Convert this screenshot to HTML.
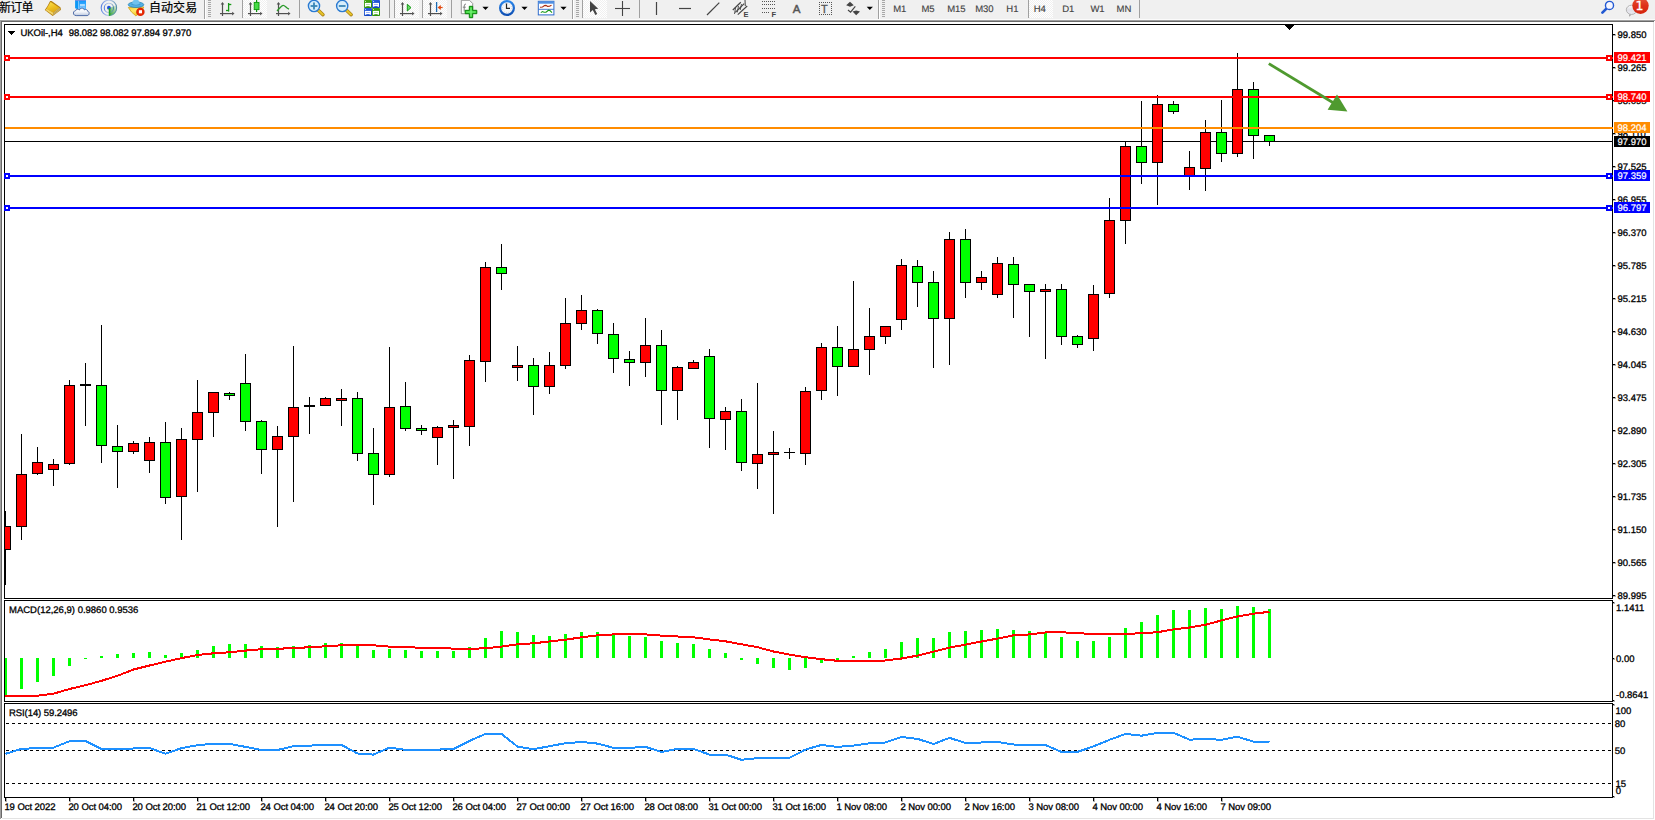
<!DOCTYPE html>
<html lang="zh-CN">
<head>
<meta charset="utf-8">
<title>UKOil-,H4</title>
<style>
html,body{margin:0;padding:0;background:#fff}
body{position:relative;width:1655px;height:820px;overflow:hidden;font-family:"Liberation Sans","Noto Sans CJK SC",sans-serif}
#toolbar{position:absolute;left:0;top:0;width:1655px;height:20px;background:#f0f0f0;border-bottom:0;overflow:hidden}
#toolbar:after{content:"";position:absolute;left:0;top:19px;width:1655px;height:1px;background:#fbfbfb}
#toolbar svg{position:absolute;left:0;top:0}
#chart{position:absolute;left:0;top:0;width:1655px;height:820px}
svg{display:block}
svg text{white-space:pre}
</style>
</head>
<body>
<div id="chart">
<svg width="1655" height="820" viewBox="0 0 1655 820" shape-rendering="crispEdges">
<defs><clipPath id="clipmain"><rect x="5" y="25" width="1607" height="573"/></clipPath><clipPath id="clipmacd"><rect x="5" y="601" width="1607" height="100"/></clipPath><clipPath id="cliprsi"><rect x="5" y="704" width="1607" height="93"/></clipPath></defs>
<rect x="0" y="20" width="1655" height="1" fill="#a0a0a0"/>
<rect x="0" y="21" width="1654" height="1" fill="#696969"/>
<rect x="0" y="20" width="1" height="799" fill="#a0a0a0"/>
<rect x="1" y="21" width="1" height="797" fill="#696969"/>
<rect x="1653" y="22" width="1" height="797" fill="#e3e3e3"/>
<rect x="2" y="818" width="1652" height="1" fill="#e3e3e3"/>
<g id="bid-line"><rect x="5" y="141" width="1607" height="1" fill="#000"/></g>
<g id="candles" clip-path="url(#clipmain)">
<rect x="5" y="511" width="1" height="74" fill="#000"/>
<rect x="0" y="526" width="11" height="24" fill="#000"/>
<rect x="1" y="527" width="9" height="22" fill="#ff0000"/>
<rect x="21" y="434" width="1" height="106" fill="#000"/>
<rect x="16" y="474" width="11" height="53" fill="#000"/>
<rect x="17" y="475" width="9" height="51" fill="#ff0000"/>
<rect x="37" y="447" width="1" height="28" fill="#000"/>
<rect x="32" y="462" width="11" height="12" fill="#000"/>
<rect x="33" y="463" width="9" height="10" fill="#ff0000"/>
<rect x="53" y="459" width="1" height="27" fill="#000"/>
<rect x="48" y="464" width="11" height="6" fill="#000"/>
<rect x="49" y="465" width="9" height="4" fill="#ff0000"/>
<rect x="69" y="380" width="1" height="85" fill="#000"/>
<rect x="64" y="385" width="11" height="79" fill="#000"/>
<rect x="65" y="386" width="9" height="77" fill="#ff0000"/>
<rect x="85" y="363" width="1" height="63" fill="#000"/>
<rect x="80" y="384" width="11" height="2" fill="#000"/>
<rect x="101" y="325" width="1" height="138" fill="#000"/>
<rect x="96" y="385" width="11" height="61" fill="#000"/>
<rect x="97" y="386" width="9" height="59" fill="#00ff00"/>
<rect x="117" y="425" width="1" height="63" fill="#000"/>
<rect x="112" y="446" width="11" height="6" fill="#000"/>
<rect x="113" y="447" width="9" height="4" fill="#00ff00"/>
<rect x="133" y="441" width="1" height="13" fill="#000"/>
<rect x="128" y="443" width="11" height="9" fill="#000"/>
<rect x="129" y="444" width="9" height="7" fill="#ff0000"/>
<rect x="149" y="437" width="1" height="36" fill="#000"/>
<rect x="144" y="442" width="11" height="19" fill="#000"/>
<rect x="145" y="443" width="9" height="17" fill="#ff0000"/>
<rect x="165" y="422" width="1" height="82" fill="#000"/>
<rect x="160" y="442" width="11" height="56" fill="#000"/>
<rect x="161" y="443" width="9" height="54" fill="#00ff00"/>
<rect x="181" y="428" width="1" height="112" fill="#000"/>
<rect x="176" y="439" width="11" height="58" fill="#000"/>
<rect x="177" y="440" width="9" height="56" fill="#ff0000"/>
<rect x="197" y="380" width="1" height="112" fill="#000"/>
<rect x="192" y="412" width="11" height="28" fill="#000"/>
<rect x="193" y="413" width="9" height="26" fill="#ff0000"/>
<rect x="213" y="392" width="1" height="45" fill="#000"/>
<rect x="208" y="392" width="11" height="21" fill="#000"/>
<rect x="209" y="393" width="9" height="19" fill="#ff0000"/>
<rect x="229" y="392" width="1" height="8" fill="#000"/>
<rect x="224" y="393" width="11" height="3" fill="#000"/>
<rect x="225" y="394" width="9" height="1" fill="#00ff00"/>
<rect x="245" y="354" width="1" height="77" fill="#000"/>
<rect x="240" y="383" width="11" height="39" fill="#000"/>
<rect x="241" y="384" width="9" height="37" fill="#00ff00"/>
<rect x="261" y="420" width="1" height="54" fill="#000"/>
<rect x="256" y="421" width="11" height="29" fill="#000"/>
<rect x="257" y="422" width="9" height="27" fill="#00ff00"/>
<rect x="277" y="426" width="1" height="101" fill="#000"/>
<rect x="272" y="436" width="11" height="14" fill="#000"/>
<rect x="273" y="437" width="9" height="12" fill="#ff0000"/>
<rect x="293" y="346" width="1" height="156" fill="#000"/>
<rect x="288" y="407" width="11" height="30" fill="#000"/>
<rect x="289" y="408" width="9" height="28" fill="#ff0000"/>
<rect x="309" y="397" width="1" height="37" fill="#000"/>
<rect x="304" y="405" width="11" height="2" fill="#000"/>
<rect x="325" y="397" width="1" height="9" fill="#000"/>
<rect x="320" y="398" width="11" height="8" fill="#000"/>
<rect x="321" y="399" width="9" height="6" fill="#ff0000"/>
<rect x="341" y="389" width="1" height="37" fill="#000"/>
<rect x="336" y="398" width="11" height="3" fill="#000"/>
<rect x="337" y="399" width="9" height="1" fill="#ff0000"/>
<rect x="357" y="392" width="1" height="69" fill="#000"/>
<rect x="352" y="398" width="11" height="56" fill="#000"/>
<rect x="353" y="399" width="9" height="54" fill="#00ff00"/>
<rect x="373" y="428" width="1" height="77" fill="#000"/>
<rect x="368" y="453" width="11" height="22" fill="#000"/>
<rect x="369" y="454" width="9" height="20" fill="#00ff00"/>
<rect x="389" y="347" width="1" height="130" fill="#000"/>
<rect x="384" y="407" width="11" height="68" fill="#000"/>
<rect x="385" y="408" width="9" height="66" fill="#ff0000"/>
<rect x="405" y="382" width="1" height="49" fill="#000"/>
<rect x="400" y="406" width="11" height="23" fill="#000"/>
<rect x="401" y="407" width="9" height="21" fill="#00ff00"/>
<rect x="421" y="425" width="1" height="10" fill="#000"/>
<rect x="416" y="428" width="11" height="3" fill="#000"/>
<rect x="417" y="429" width="9" height="1" fill="#00ff00"/>
<rect x="437" y="426" width="1" height="39" fill="#000"/>
<rect x="432" y="427" width="11" height="11" fill="#000"/>
<rect x="433" y="428" width="9" height="9" fill="#ff0000"/>
<rect x="453" y="420" width="1" height="59" fill="#000"/>
<rect x="448" y="425" width="11" height="3" fill="#000"/>
<rect x="449" y="426" width="9" height="1" fill="#ff0000"/>
<rect x="469" y="355" width="1" height="91" fill="#000"/>
<rect x="464" y="360" width="11" height="67" fill="#000"/>
<rect x="465" y="361" width="9" height="65" fill="#ff0000"/>
<rect x="485" y="262" width="1" height="120" fill="#000"/>
<rect x="480" y="267" width="11" height="95" fill="#000"/>
<rect x="481" y="268" width="9" height="93" fill="#ff0000"/>
<rect x="501" y="244" width="1" height="46" fill="#000"/>
<rect x="496" y="267" width="11" height="7" fill="#000"/>
<rect x="497" y="268" width="9" height="5" fill="#00ff00"/>
<rect x="517" y="346" width="1" height="35" fill="#000"/>
<rect x="512" y="365" width="11" height="3" fill="#000"/>
<rect x="513" y="366" width="9" height="1" fill="#ff0000"/>
<rect x="533" y="358" width="1" height="57" fill="#000"/>
<rect x="528" y="365" width="11" height="22" fill="#000"/>
<rect x="529" y="366" width="9" height="20" fill="#00ff00"/>
<rect x="549" y="352" width="1" height="42" fill="#000"/>
<rect x="544" y="365" width="11" height="22" fill="#000"/>
<rect x="545" y="366" width="9" height="20" fill="#ff0000"/>
<rect x="565" y="298" width="1" height="71" fill="#000"/>
<rect x="560" y="323" width="11" height="43" fill="#000"/>
<rect x="561" y="324" width="9" height="41" fill="#ff0000"/>
<rect x="581" y="295" width="1" height="35" fill="#000"/>
<rect x="576" y="310" width="11" height="14" fill="#000"/>
<rect x="577" y="311" width="9" height="12" fill="#ff0000"/>
<rect x="597" y="309" width="1" height="35" fill="#000"/>
<rect x="592" y="310" width="11" height="24" fill="#000"/>
<rect x="593" y="311" width="9" height="22" fill="#00ff00"/>
<rect x="613" y="323" width="1" height="50" fill="#000"/>
<rect x="608" y="334" width="11" height="25" fill="#000"/>
<rect x="609" y="335" width="9" height="23" fill="#00ff00"/>
<rect x="629" y="351" width="1" height="35" fill="#000"/>
<rect x="624" y="359" width="11" height="4" fill="#000"/>
<rect x="625" y="360" width="9" height="2" fill="#00ff00"/>
<rect x="645" y="318" width="1" height="59" fill="#000"/>
<rect x="640" y="345" width="11" height="18" fill="#000"/>
<rect x="641" y="346" width="9" height="16" fill="#ff0000"/>
<rect x="661" y="330" width="1" height="95" fill="#000"/>
<rect x="656" y="345" width="11" height="46" fill="#000"/>
<rect x="657" y="346" width="9" height="44" fill="#00ff00"/>
<rect x="677" y="366" width="1" height="54" fill="#000"/>
<rect x="672" y="367" width="11" height="24" fill="#000"/>
<rect x="673" y="368" width="9" height="22" fill="#ff0000"/>
<rect x="693" y="360" width="1" height="9" fill="#000"/>
<rect x="688" y="362" width="11" height="7" fill="#000"/>
<rect x="689" y="363" width="9" height="5" fill="#ff0000"/>
<rect x="709" y="349" width="1" height="99" fill="#000"/>
<rect x="704" y="356" width="11" height="63" fill="#000"/>
<rect x="705" y="357" width="9" height="61" fill="#00ff00"/>
<rect x="725" y="407" width="1" height="43" fill="#000"/>
<rect x="720" y="411" width="11" height="9" fill="#000"/>
<rect x="721" y="412" width="9" height="7" fill="#ff0000"/>
<rect x="741" y="399" width="1" height="72" fill="#000"/>
<rect x="736" y="411" width="11" height="52" fill="#000"/>
<rect x="737" y="412" width="9" height="50" fill="#00ff00"/>
<rect x="757" y="383" width="1" height="106" fill="#000"/>
<rect x="752" y="454" width="11" height="10" fill="#000"/>
<rect x="753" y="455" width="9" height="8" fill="#ff0000"/>
<rect x="773" y="431" width="1" height="83" fill="#000"/>
<rect x="768" y="452" width="11" height="3" fill="#000"/>
<rect x="769" y="453" width="9" height="1" fill="#ff0000"/>
<rect x="789" y="448" width="1" height="11" fill="#000"/>
<rect x="784" y="452" width="11" height="1" fill="#000"/>
<rect x="805" y="387" width="1" height="78" fill="#000"/>
<rect x="800" y="391" width="11" height="63" fill="#000"/>
<rect x="801" y="392" width="9" height="61" fill="#ff0000"/>
<rect x="821" y="343" width="1" height="57" fill="#000"/>
<rect x="816" y="347" width="11" height="44" fill="#000"/>
<rect x="817" y="348" width="9" height="42" fill="#ff0000"/>
<rect x="837" y="326" width="1" height="70" fill="#000"/>
<rect x="832" y="347" width="11" height="20" fill="#000"/>
<rect x="833" y="348" width="9" height="18" fill="#00ff00"/>
<rect x="853" y="281" width="1" height="86" fill="#000"/>
<rect x="848" y="349" width="11" height="18" fill="#000"/>
<rect x="849" y="350" width="9" height="16" fill="#ff0000"/>
<rect x="869" y="308" width="1" height="67" fill="#000"/>
<rect x="864" y="336" width="11" height="14" fill="#000"/>
<rect x="865" y="337" width="9" height="12" fill="#ff0000"/>
<rect x="885" y="326" width="1" height="18" fill="#000"/>
<rect x="880" y="326" width="11" height="11" fill="#000"/>
<rect x="881" y="327" width="9" height="9" fill="#ff0000"/>
<rect x="901" y="259" width="1" height="71" fill="#000"/>
<rect x="896" y="265" width="11" height="55" fill="#000"/>
<rect x="897" y="266" width="9" height="53" fill="#ff0000"/>
<rect x="917" y="260" width="1" height="47" fill="#000"/>
<rect x="912" y="266" width="11" height="17" fill="#000"/>
<rect x="913" y="267" width="9" height="15" fill="#00ff00"/>
<rect x="933" y="271" width="1" height="97" fill="#000"/>
<rect x="928" y="282" width="11" height="37" fill="#000"/>
<rect x="929" y="283" width="9" height="35" fill="#00ff00"/>
<rect x="949" y="232" width="1" height="133" fill="#000"/>
<rect x="944" y="239" width="11" height="80" fill="#000"/>
<rect x="945" y="240" width="9" height="78" fill="#ff0000"/>
<rect x="965" y="229" width="1" height="69" fill="#000"/>
<rect x="960" y="239" width="11" height="44" fill="#000"/>
<rect x="961" y="240" width="9" height="42" fill="#00ff00"/>
<rect x="981" y="271" width="1" height="19" fill="#000"/>
<rect x="976" y="277" width="11" height="6" fill="#000"/>
<rect x="977" y="278" width="9" height="4" fill="#ff0000"/>
<rect x="997" y="257" width="1" height="41" fill="#000"/>
<rect x="992" y="263" width="11" height="32" fill="#000"/>
<rect x="993" y="264" width="9" height="30" fill="#ff0000"/>
<rect x="1013" y="257" width="1" height="61" fill="#000"/>
<rect x="1008" y="264" width="11" height="21" fill="#000"/>
<rect x="1009" y="265" width="9" height="19" fill="#00ff00"/>
<rect x="1029" y="284" width="1" height="53" fill="#000"/>
<rect x="1024" y="284" width="11" height="8" fill="#000"/>
<rect x="1025" y="285" width="9" height="6" fill="#00ff00"/>
<rect x="1045" y="284" width="1" height="75" fill="#000"/>
<rect x="1040" y="289" width="11" height="3" fill="#000"/>
<rect x="1041" y="290" width="9" height="1" fill="#ff0000"/>
<rect x="1061" y="284" width="1" height="61" fill="#000"/>
<rect x="1056" y="289" width="11" height="48" fill="#000"/>
<rect x="1057" y="290" width="9" height="46" fill="#00ff00"/>
<rect x="1077" y="335" width="1" height="13" fill="#000"/>
<rect x="1072" y="336" width="11" height="9" fill="#000"/>
<rect x="1073" y="337" width="9" height="7" fill="#00ff00"/>
<rect x="1093" y="285" width="1" height="66" fill="#000"/>
<rect x="1088" y="294" width="11" height="45" fill="#000"/>
<rect x="1089" y="295" width="9" height="43" fill="#ff0000"/>
<rect x="1109" y="198" width="1" height="100" fill="#000"/>
<rect x="1104" y="220" width="11" height="74" fill="#000"/>
<rect x="1105" y="221" width="9" height="72" fill="#ff0000"/>
<rect x="1125" y="142" width="1" height="102" fill="#000"/>
<rect x="1120" y="146" width="11" height="75" fill="#000"/>
<rect x="1121" y="147" width="9" height="73" fill="#ff0000"/>
<rect x="1141" y="101" width="1" height="83" fill="#000"/>
<rect x="1136" y="146" width="11" height="17" fill="#000"/>
<rect x="1137" y="147" width="9" height="15" fill="#00ff00"/>
<rect x="1157" y="95" width="1" height="110" fill="#000"/>
<rect x="1152" y="104" width="11" height="59" fill="#000"/>
<rect x="1153" y="105" width="9" height="57" fill="#ff0000"/>
<rect x="1173" y="101" width="1" height="13" fill="#000"/>
<rect x="1168" y="104" width="11" height="8" fill="#000"/>
<rect x="1169" y="105" width="9" height="6" fill="#00ff00"/>
<rect x="1189" y="151" width="1" height="39" fill="#000"/>
<rect x="1184" y="167" width="11" height="10" fill="#000"/>
<rect x="1185" y="168" width="9" height="8" fill="#ff0000"/>
<rect x="1205" y="120" width="1" height="71" fill="#000"/>
<rect x="1200" y="132" width="11" height="37" fill="#000"/>
<rect x="1201" y="133" width="9" height="35" fill="#ff0000"/>
<rect x="1221" y="100" width="1" height="62" fill="#000"/>
<rect x="1216" y="132" width="11" height="22" fill="#000"/>
<rect x="1217" y="133" width="9" height="20" fill="#00ff00"/>
<rect x="1237" y="53" width="1" height="104" fill="#000"/>
<rect x="1232" y="89" width="11" height="65" fill="#000"/>
<rect x="1233" y="90" width="9" height="63" fill="#ff0000"/>
<rect x="1253" y="82" width="1" height="77" fill="#000"/>
<rect x="1248" y="89" width="11" height="47" fill="#000"/>
<rect x="1249" y="90" width="9" height="45" fill="#00ff00"/>
<rect x="1269" y="135" width="1" height="11" fill="#000"/>
<rect x="1264" y="135" width="11" height="7" fill="#000"/>
<rect x="1265" y="136" width="9" height="5" fill="#00ff00"/>
</g>
<rect x="4" y="24" width="1609" height="1" fill="#000"/>
<rect x="4" y="598" width="1609" height="1" fill="#000"/>
<rect x="4" y="24" width="1" height="575" fill="#000"/>
<rect x="1612" y="24" width="1" height="575" fill="#000"/>
<rect x="4" y="600" width="1609" height="1" fill="#000"/>
<rect x="4" y="701" width="1609" height="1" fill="#000"/>
<rect x="4" y="600" width="1" height="102" fill="#000"/>
<rect x="1612" y="600" width="1" height="102" fill="#000"/>
<rect x="4" y="703" width="1609" height="1" fill="#000"/>
<rect x="4" y="797" width="1609" height="1" fill="#000"/>
<rect x="4" y="703" width="1" height="95" fill="#000"/>
<rect x="1612" y="703" width="1" height="95" fill="#000"/>
<g id="line-99421">
<rect x="5" y="57" width="1608" height="2" fill="#ff0000"/>
<rect x="4" y="55" width="6" height="6" fill="#ff0000"/>
<rect x="6" y="57" width="2" height="2" fill="#fff"/>
<rect x="1606" y="55" width="6" height="6" fill="#ff0000"/>
<rect x="1608" y="57" width="2" height="2" fill="#fff"/>
</g>
<g id="line-98740">
<rect x="5" y="96" width="1608" height="2" fill="#ff0000"/>
<rect x="4" y="94" width="6" height="6" fill="#ff0000"/>
<rect x="6" y="96" width="2" height="2" fill="#fff"/>
<rect x="1606" y="94" width="6" height="6" fill="#ff0000"/>
<rect x="1608" y="96" width="2" height="2" fill="#fff"/>
</g>
<g id="line-98204">
<rect x="5" y="127" width="1608" height="2" fill="#ff8c00"/>
</g>
<g id="line-97359">
<rect x="5" y="175" width="1608" height="2" fill="#0000ff"/>
<rect x="4" y="173" width="6" height="6" fill="#0000ff"/>
<rect x="6" y="175" width="2" height="2" fill="#fff"/>
<rect x="1606" y="173" width="6" height="6" fill="#0000ff"/>
<rect x="1608" y="175" width="2" height="2" fill="#fff"/>
</g>
<g id="line-96797">
<rect x="5" y="207" width="1608" height="2" fill="#0000ff"/>
<rect x="4" y="205" width="6" height="6" fill="#0000ff"/>
<rect x="6" y="207" width="2" height="2" fill="#fff"/>
<rect x="1606" y="205" width="6" height="6" fill="#0000ff"/>
<rect x="1608" y="207" width="2" height="2" fill="#fff"/>
</g>
<g id="arrow" fill="#4f9a2f" stroke="none" shape-rendering="geometricPrecision">
<line x1="1268.8" y1="63.6" x2="1334" y2="103.2" stroke="#4f9a2f" stroke-width="2.8"/>
<polygon points="1347.4,111.4 1337,94.6 1327.6,109.8"/>
</g>
<polygon points="1284.5,25 1294.5,25 1289.5,30" fill="#000" shape-rendering="crispEdges"/>
<g id="macd" clip-path="url(#clipmacd)">
<rect x="4" y="658" width="3" height="38" fill="#00ff00"/>
<rect x="20" y="658" width="3" height="31" fill="#00ff00"/>
<rect x="36" y="658" width="3" height="24" fill="#00ff00"/>
<rect x="52" y="658" width="3" height="18" fill="#00ff00"/>
<rect x="68" y="658" width="3" height="8" fill="#00ff00"/>
<rect x="84" y="658" width="3" height="1" fill="#00ff00"/>
<rect x="100" y="656" width="3" height="2" fill="#00ff00"/>
<rect x="116" y="654" width="3" height="4" fill="#00ff00"/>
<rect x="132" y="653" width="3" height="5" fill="#00ff00"/>
<rect x="148" y="652" width="3" height="6" fill="#00ff00"/>
<rect x="164" y="655" width="3" height="3" fill="#00ff00"/>
<rect x="180" y="653" width="3" height="5" fill="#00ff00"/>
<rect x="196" y="650" width="3" height="8" fill="#00ff00"/>
<rect x="212" y="646" width="3" height="12" fill="#00ff00"/>
<rect x="228" y="644" width="3" height="14" fill="#00ff00"/>
<rect x="244" y="644" width="3" height="14" fill="#00ff00"/>
<rect x="260" y="646" width="3" height="12" fill="#00ff00"/>
<rect x="276" y="647" width="3" height="11" fill="#00ff00"/>
<rect x="292" y="646" width="3" height="12" fill="#00ff00"/>
<rect x="308" y="645" width="3" height="13" fill="#00ff00"/>
<rect x="324" y="643" width="3" height="15" fill="#00ff00"/>
<rect x="340" y="643" width="3" height="15" fill="#00ff00"/>
<rect x="356" y="645" width="3" height="13" fill="#00ff00"/>
<rect x="372" y="650" width="3" height="8" fill="#00ff00"/>
<rect x="388" y="649" width="3" height="9" fill="#00ff00"/>
<rect x="404" y="650" width="3" height="8" fill="#00ff00"/>
<rect x="420" y="651" width="3" height="7" fill="#00ff00"/>
<rect x="436" y="651" width="3" height="7" fill="#00ff00"/>
<rect x="452" y="651" width="3" height="7" fill="#00ff00"/>
<rect x="468" y="647" width="3" height="11" fill="#00ff00"/>
<rect x="484" y="638" width="3" height="20" fill="#00ff00"/>
<rect x="500" y="631" width="3" height="27" fill="#00ff00"/>
<rect x="516" y="632" width="3" height="26" fill="#00ff00"/>
<rect x="532" y="635" width="3" height="23" fill="#00ff00"/>
<rect x="548" y="636" width="3" height="22" fill="#00ff00"/>
<rect x="564" y="634" width="3" height="24" fill="#00ff00"/>
<rect x="580" y="632" width="3" height="26" fill="#00ff00"/>
<rect x="596" y="632" width="3" height="26" fill="#00ff00"/>
<rect x="612" y="635" width="3" height="23" fill="#00ff00"/>
<rect x="628" y="636" width="3" height="22" fill="#00ff00"/>
<rect x="644" y="637" width="3" height="21" fill="#00ff00"/>
<rect x="660" y="641" width="3" height="17" fill="#00ff00"/>
<rect x="676" y="643" width="3" height="15" fill="#00ff00"/>
<rect x="692" y="644" width="3" height="14" fill="#00ff00"/>
<rect x="708" y="649" width="3" height="9" fill="#00ff00"/>
<rect x="724" y="653" width="3" height="5" fill="#00ff00"/>
<rect x="740" y="658" width="3" height="2" fill="#00ff00"/>
<rect x="756" y="658" width="3" height="6" fill="#00ff00"/>
<rect x="772" y="658" width="3" height="10" fill="#00ff00"/>
<rect x="788" y="658" width="3" height="12" fill="#00ff00"/>
<rect x="804" y="658" width="3" height="10" fill="#00ff00"/>
<rect x="820" y="658" width="3" height="5" fill="#00ff00"/>
<rect x="836" y="658" width="3" height="2" fill="#00ff00"/>
<rect x="852" y="656" width="3" height="2" fill="#00ff00"/>
<rect x="868" y="652" width="3" height="6" fill="#00ff00"/>
<rect x="884" y="649" width="3" height="9" fill="#00ff00"/>
<rect x="900" y="642" width="3" height="16" fill="#00ff00"/>
<rect x="916" y="638" width="3" height="20" fill="#00ff00"/>
<rect x="932" y="638" width="3" height="20" fill="#00ff00"/>
<rect x="948" y="632" width="3" height="26" fill="#00ff00"/>
<rect x="964" y="631" width="3" height="27" fill="#00ff00"/>
<rect x="980" y="630" width="3" height="28" fill="#00ff00"/>
<rect x="996" y="629" width="3" height="29" fill="#00ff00"/>
<rect x="1012" y="630" width="3" height="28" fill="#00ff00"/>
<rect x="1028" y="631" width="3" height="27" fill="#00ff00"/>
<rect x="1044" y="633" width="3" height="25" fill="#00ff00"/>
<rect x="1060" y="637" width="3" height="21" fill="#00ff00"/>
<rect x="1076" y="641" width="3" height="17" fill="#00ff00"/>
<rect x="1092" y="641" width="3" height="17" fill="#00ff00"/>
<rect x="1108" y="637" width="3" height="21" fill="#00ff00"/>
<rect x="1124" y="628" width="3" height="30" fill="#00ff00"/>
<rect x="1140" y="622" width="3" height="36" fill="#00ff00"/>
<rect x="1156" y="615" width="3" height="43" fill="#00ff00"/>
<rect x="1172" y="610" width="3" height="48" fill="#00ff00"/>
<rect x="1188" y="610" width="3" height="48" fill="#00ff00"/>
<rect x="1204" y="608" width="3" height="50" fill="#00ff00"/>
<rect x="1220" y="609" width="3" height="49" fill="#00ff00"/>
<rect x="1236" y="606" width="3" height="52" fill="#00ff00"/>
<rect x="1252" y="607" width="3" height="51" fill="#00ff00"/>
<rect x="1268" y="609" width="3" height="49" fill="#00ff00"/>
<polyline points="5.5,696.0 21.5,695.8 37.5,695.7 53.5,693.7 69.5,689.0 85.5,685.2 101.5,680.8 117.5,675.8 133.5,669.5 149.5,665.5 165.5,661.7 181.5,658.1 197.5,655.0 213.5,653.3 229.5,652.3 245.5,650.6 261.5,649.2 277.5,648.7 293.5,648.2 309.5,647.2 325.5,646.3 341.5,645.3 357.5,644.7 373.5,645.3 389.5,646.6 405.5,647.0 421.5,647.9 437.5,647.9 453.5,648.6 469.5,648.8 485.5,648.3 501.5,646.6 517.5,644.3 533.5,643.3 549.5,641.5 565.5,639.7 581.5,637.3 597.5,635.3 613.5,634.4 629.5,633.8 645.5,634.4 661.5,635.6 677.5,636.5 693.5,637.3 709.5,639.4 725.5,641.3 741.5,644.3 757.5,647.2 773.5,651.5 789.5,654.6 805.5,657.2 821.5,659.2 837.5,660.8 853.5,661.0 869.5,661.0 885.5,660.5 901.5,658.5 917.5,655.6 933.5,651.6 949.5,647.6 965.5,644.6 981.5,641.5 997.5,638.6 1013.5,635.3 1029.5,634.4 1045.5,632.5 1061.5,632.2 1077.5,633.3 1093.5,633.8 1109.5,633.8 1125.5,633.8 1141.5,633.3 1157.5,632.2 1173.5,629.4 1189.5,627.5 1205.5,624.8 1221.5,620.4 1237.5,616.5 1253.5,613.7 1269.5,611.8" fill="none" stroke="#ff0000" stroke-width="2" shape-rendering="crispEdges"/>
</g>
<g id="rsi" clip-path="url(#cliprsi)">
<line x1="6" y1="723.5" x2="1612" y2="723.5" stroke="#000" stroke-width="1" stroke-dasharray="3 3"/>
<line x1="6" y1="750.5" x2="1612" y2="750.5" stroke="#000" stroke-width="1" stroke-dasharray="3 3"/>
<line x1="6" y1="783.5" x2="1612" y2="783.5" stroke="#000" stroke-width="1" stroke-dasharray="3 3"/>
<polyline points="5.5,753.8 21.5,748.9 37.5,748.1 53.5,747.6 69.5,741.2 85.5,740.9 101.5,748.9 117.5,749.2 133.5,748.5 149.5,747.9 165.5,753.8 181.5,748.1 197.5,745.2 213.5,743.7 229.5,743.8 245.5,746.9 261.5,750.0 277.5,750.0 293.5,746.2 309.5,745.6 325.5,744.9 341.5,744.9 357.5,753.5 373.5,754.6 389.5,747.6 405.5,749.8 421.5,750.0 437.5,749.6 453.5,748.9 469.5,740.9 485.5,733.9 501.5,733.9 517.5,746.6 533.5,749.2 549.5,746.2 565.5,743.2 581.5,742.0 597.5,743.6 613.5,747.8 629.5,747.8 645.5,746.9 661.5,752.0 677.5,748.9 693.5,748.9 709.5,754.6 725.5,754.6 741.5,759.8 757.5,758.2 773.5,757.8 789.5,757.8 805.5,749.6 821.5,744.9 837.5,746.9 853.5,745.6 869.5,743.3 885.5,742.5 901.5,736.9 917.5,738.9 933.5,744.0 949.5,737.9 965.5,742.9 981.5,742.5 997.5,742.0 1013.5,744.5 1029.5,744.9 1045.5,745.1 1061.5,751.9 1077.5,751.9 1093.5,746.4 1109.5,739.8 1125.5,733.9 1141.5,735.7 1157.5,732.8 1173.5,732.8 1189.5,739.7 1205.5,738.9 1221.5,739.8 1237.5,736.7 1253.5,741.7 1269.5,742.0" fill="none" stroke="#1e90ff" stroke-width="2" shape-rendering="crispEdges"/>
</g>
<g id="price-axis" font-family="Liberation Sans, sans-serif" font-size="9.5px" text-rendering="geometricPrecision" stroke="#000" stroke-width="0.3" fill="#000">
<rect x="1613" y="34" width="2" height="1" fill="#000"/>
<text x="1617.5" y="38">99.850</text>
<rect x="1613" y="67" width="2" height="1" fill="#000"/>
<text x="1617.5" y="71">99.265</text>
<rect x="1613" y="100" width="2" height="1" fill="#000"/>
<text x="1617.5" y="104">98.695</text>
<rect x="1613" y="133" width="2" height="1" fill="#000"/>
<text x="1617.5" y="137">98.110</text>
<rect x="1613" y="166" width="2" height="1" fill="#000"/>
<text x="1617.5" y="170">97.525</text>
<rect x="1613" y="199" width="2" height="1" fill="#000"/>
<text x="1617.5" y="203">96.955</text>
<rect x="1613" y="232" width="2" height="1" fill="#000"/>
<text x="1617.5" y="236">96.370</text>
<rect x="1613" y="265" width="2" height="1" fill="#000"/>
<text x="1617.5" y="269">95.785</text>
<rect x="1613" y="298" width="2" height="1" fill="#000"/>
<text x="1617.5" y="302">95.215</text>
<rect x="1613" y="331" width="2" height="1" fill="#000"/>
<text x="1617.5" y="335">94.630</text>
<rect x="1613" y="364" width="2" height="1" fill="#000"/>
<text x="1617.5" y="368">94.045</text>
<rect x="1613" y="397" width="2" height="1" fill="#000"/>
<text x="1617.5" y="401">93.475</text>
<rect x="1613" y="430" width="2" height="1" fill="#000"/>
<text x="1617.5" y="434">92.890</text>
<rect x="1613" y="463" width="2" height="1" fill="#000"/>
<text x="1617.5" y="467">92.305</text>
<rect x="1613" y="496" width="2" height="1" fill="#000"/>
<text x="1617.5" y="500">91.735</text>
<rect x="1613" y="529" width="2" height="1" fill="#000"/>
<text x="1617.5" y="533">91.150</text>
<rect x="1613" y="562" width="2" height="1" fill="#000"/>
<text x="1617.5" y="566">90.565</text>
<rect x="1613" y="595" width="2" height="1" fill="#000"/>
<text x="1617.5" y="599">89.995</text>
</g>
<g id="tag-99421"><rect x="1614" y="52" width="36" height="11" fill="#ff0000"/><text x="1617.5" y="61" fill="#fff" font-family="Liberation Sans, sans-serif" font-size="9.5px" text-rendering="geometricPrecision" stroke="#fff" stroke-width="0.2">99.421</text></g>
<g id="tag-98740"><rect x="1614" y="91" width="36" height="11" fill="#ff0000"/><text x="1617.5" y="100" fill="#fff" font-family="Liberation Sans, sans-serif" font-size="9.5px" text-rendering="geometricPrecision" stroke="#fff" stroke-width="0.2">98.740</text></g>
<g id="tag-98204"><rect x="1614" y="122" width="36" height="11" fill="#ff8c00"/><text x="1617.5" y="131" fill="#fff" font-family="Liberation Sans, sans-serif" font-size="9.5px" text-rendering="geometricPrecision" stroke="#fff" stroke-width="0.2">98.204</text></g>
<g id="tag-bid"><rect x="1614" y="136" width="36" height="11" fill="#000000"/><text x="1617.5" y="145" fill="#fff" font-family="Liberation Sans, sans-serif" font-size="9.5px" text-rendering="geometricPrecision" stroke="#fff" stroke-width="0.2">97.970</text></g>
<g id="tag-97359"><rect x="1614" y="170" width="36" height="11" fill="#0000ff"/><text x="1617.5" y="179" fill="#fff" font-family="Liberation Sans, sans-serif" font-size="9.5px" text-rendering="geometricPrecision" stroke="#fff" stroke-width="0.2">97.359</text></g>
<g id="tag-96797"><rect x="1614" y="202" width="36" height="11" fill="#0000ff"/><text x="1617.5" y="211" fill="#fff" font-family="Liberation Sans, sans-serif" font-size="9.5px" text-rendering="geometricPrecision" stroke="#fff" stroke-width="0.2">96.797</text></g>
<g id="macd-axis" font-family="Liberation Sans, sans-serif" font-size="9.5px" text-rendering="geometricPrecision" stroke="#000" stroke-width="0.3" fill="#000">
<rect x="1613" y="602" width="1" height="1" fill="#000"/>
<text x="1616" y="611">1.1411</text>
<rect x="1613" y="658" width="1" height="1" fill="#000"/>
<text x="1616" y="662">0.00</text>
<rect x="1613" y="700" width="1" height="1" fill="#000"/>
<text x="1616" y="698">-0.8641</text>
</g>
<g id="rsi-axis" font-family="Liberation Sans, sans-serif" font-size="9.5px" text-rendering="geometricPrecision" stroke="#000" stroke-width="0.3" fill="#000">
<rect x="1613" y="704" width="1" height="1" fill="#000"/><rect x="1613" y="796" width="1" height="1" fill="#000"/>
<text x="1615.5" y="714">100</text>
<text x="1614.7" y="727">80</text>
<text x="1614.7" y="754">50</text>
<text x="1615.5" y="787.2">15</text>
<text x="1615.8" y="793.6">0</text>
</g>
<g id="time-axis" font-family="Liberation Sans, sans-serif" font-size="9.5px" text-rendering="geometricPrecision" stroke="#000" stroke-width="0.3" fill="#000">
<rect x="5" y="798" width="1" height="3" fill="#000"/>
<text x="4.4" y="810" letter-spacing="-0.07">19 Oct 2022</text>
<rect x="69" y="798" width="1" height="3" fill="#000"/>
<text x="68.4" y="810" letter-spacing="-0.07">20 Oct 04:00</text>
<rect x="133" y="798" width="1" height="3" fill="#000"/>
<text x="132.4" y="810" letter-spacing="-0.07">20 Oct 20:00</text>
<rect x="197" y="798" width="1" height="3" fill="#000"/>
<text x="196.4" y="810" letter-spacing="-0.07">21 Oct 12:00</text>
<rect x="261" y="798" width="1" height="3" fill="#000"/>
<text x="260.4" y="810" letter-spacing="-0.07">24 Oct 04:00</text>
<rect x="325" y="798" width="1" height="3" fill="#000"/>
<text x="324.4" y="810" letter-spacing="-0.07">24 Oct 20:00</text>
<rect x="389" y="798" width="1" height="3" fill="#000"/>
<text x="388.4" y="810" letter-spacing="-0.07">25 Oct 12:00</text>
<rect x="453" y="798" width="1" height="3" fill="#000"/>
<text x="452.4" y="810" letter-spacing="-0.07">26 Oct 04:00</text>
<rect x="517" y="798" width="1" height="3" fill="#000"/>
<text x="516.4" y="810" letter-spacing="-0.07">27 Oct 00:00</text>
<rect x="581" y="798" width="1" height="3" fill="#000"/>
<text x="580.4" y="810" letter-spacing="-0.07">27 Oct 16:00</text>
<rect x="645" y="798" width="1" height="3" fill="#000"/>
<text x="644.4" y="810" letter-spacing="-0.07">28 Oct 08:00</text>
<rect x="709" y="798" width="1" height="3" fill="#000"/>
<text x="708.4" y="810" letter-spacing="-0.07">31 Oct 00:00</text>
<rect x="773" y="798" width="1" height="3" fill="#000"/>
<text x="772.4" y="810" letter-spacing="-0.07">31 Oct 16:00</text>
<rect x="837" y="798" width="1" height="3" fill="#000"/>
<text x="836.4" y="810" letter-spacing="-0.07">1 Nov 08:00</text>
<rect x="901" y="798" width="1" height="3" fill="#000"/>
<text x="900.4" y="810" letter-spacing="-0.07">2 Nov 00:00</text>
<rect x="965" y="798" width="1" height="3" fill="#000"/>
<text x="964.4" y="810" letter-spacing="-0.07">2 Nov 16:00</text>
<rect x="1029" y="798" width="1" height="3" fill="#000"/>
<text x="1028.4" y="810" letter-spacing="-0.07">3 Nov 08:00</text>
<rect x="1093" y="798" width="1" height="3" fill="#000"/>
<text x="1092.4" y="810" letter-spacing="-0.07">4 Nov 00:00</text>
<rect x="1157" y="798" width="1" height="3" fill="#000"/>
<text x="1156.4" y="810" letter-spacing="-0.07">4 Nov 16:00</text>
<rect x="1221" y="798" width="1" height="3" fill="#000"/>
<text x="1220.4" y="810" letter-spacing="-0.07">7 Nov 09:00</text>
</g>
<g id="captions" font-family="Liberation Sans, sans-serif" font-size="9.5px" text-rendering="geometricPrecision" stroke="#000" stroke-width="0.3" fill="#000">
<polygon points="8,31 15,31 11.5,35" fill="#000"/>
<text x="20.5" y="36" letter-spacing="-0.065">UKOil-,H4&#160;&#160;<tspan dx="1">98.082 98.082 97.894 97.970</tspan></text>
<text x="9" y="613">MACD(12,26,9) 0.9860 0.9536</text>
<text x="9" y="716" letter-spacing="-0.08">RSI(14) 59.2496</text>
</g>
</svg>
</div>
<div id="toolbar">
<svg width="1655" height="20" viewBox="0 0 1655 20">
<defs>
<pattern id="chk" width="2" height="2" patternUnits="userSpaceOnUse"><rect width="2" height="2" fill="#fff"/><rect width="1" height="1" fill="#f0f0f0"/><rect x="1" y="1" width="1" height="1" fill="#f0f0f0"/></pattern>
<linearGradient id="gold" x1="0.2" y1="0" x2="0.7" y2="1"><stop offset="0" stop-color="#fbe04e"/><stop offset="0.55" stop-color="#ecbc1c"/><stop offset="1" stop-color="#d9a41a"/></linearGradient>
<linearGradient id="srv" x1="0" y1="0" x2="0" y2="1"><stop offset="0" stop-color="#189bff"/><stop offset="1" stop-color="#62bcff"/></linearGradient>
<linearGradient id="cld" x1="0" y1="0" x2="0" y2="1"><stop offset="0" stop-color="#ffffff"/><stop offset="0.5" stop-color="#f2f5fa"/><stop offset="1" stop-color="#bcc8de"/></linearGradient>
<linearGradient id="sigw" x1="0" y1="1" x2="0.8" y2="0"><stop offset="0" stop-color="#1f9f1f"/><stop offset="0.45" stop-color="#74c074"/><stop offset="1" stop-color="#d2e4d2"/></linearGradient>
<linearGradient id="sigr" x1="0" y1="0" x2="1" y2="0"><stop offset="0" stop-color="#3f6fe0" stop-opacity="0.85"/><stop offset="0.5" stop-color="#88a6e6" stop-opacity="0.45"/><stop offset="1" stop-color="#3f7f9f" stop-opacity="0.85"/></linearGradient>
<linearGradient id="face" x1="0" y1="0" x2="0.3" y2="1"><stop offset="0" stop-color="#f6cf3a"/><stop offset="0.5" stop-color="#ffe96a"/><stop offset="1" stop-color="#f2c624"/></linearGradient>
<radialGradient id="stop" cx="0.5" cy="0.5" r="0.55"><stop offset="0" stop-color="#f23a10"/><stop offset="0.75" stop-color="#e42400"/><stop offset="1" stop-color="#b81400"/></radialGradient>
<linearGradient id="tg" x1="0" y1="0" x2="0.4" y2="1"><stop offset="0" stop-color="#44a812"/><stop offset="1" stop-color="#2f920c"/></linearGradient>
<linearGradient id="tb" x1="0" y1="0" x2="0.4" y2="1"><stop offset="0" stop-color="#2a62e0"/><stop offset="1" stop-color="#1244c4"/></linearGradient>
<linearGradient id="clk" x1="0" y1="0" x2="0" y2="1"><stop offset="0" stop-color="#2a86ea"/><stop offset="1" stop-color="#0f50b4"/></linearGradient>
<linearGradient id="bub" x1="0" y1="0" x2="0" y2="1"><stop offset="0" stop-color="#fbfbfd"/><stop offset="0.5" stop-color="#e0e0e6"/><stop offset="1" stop-color="#ececf4"/></linearGradient>
<linearGradient id="badge" x1="0" y1="0" x2="0" y2="1"><stop offset="0" stop-color="#e6553a"/><stop offset="0.5" stop-color="#de3018"/><stop offset="1" stop-color="#d4240e"/></linearGradient>
</defs>
<text x="-0.9" y="11.5" font-family="Liberation Sans, Noto Sans CJK SC, sans-serif" font-size="12px" letter-spacing="-0.8" fill="#000" stroke="#000" stroke-width="0.2">新订单</text>
<g id="ico-book"><polygon points="50.1,1.1 51.6,0.9 60.4,7.2 61.1,9.8 52.7,16 44.8,9.9 47.5,6" fill="#b5800f"/><polygon points="50.6,2 59.4,7.7 53.3,12.8 46.6,8.7" fill="url(#gold)"/><polygon points="45.6,10 46.6,8.7 53.3,12.8 52.8,15.1" fill="#f2d568"/><polygon points="53.3,12.8 59.4,7.7 60.5,9.7 53.2,15.2" fill="#cfb66e"/><line x1="53.4" y1="14" x2="60" y2="8.7" stroke="#a88a3a" stroke-width="0.5"/></g>
<g id="ico-cloud"><polygon points="75.1,0 85.9,0 85.9,9.4 78.5,9.4 75.1,8.2" fill="#0d98f6"/><polygon points="78.7,1.2 85.9,1.2 85.9,9.4 78.7,9.4" fill="url(#srv)"/><rect x="75.1" y="0" width="10.8" height="0.8" fill="#7f8fe2"/><rect x="78.3" y="0.8" width="0.5" height="8.6" fill="#d8efff"/><rect x="80" y="4.4" width="4.9" height="1.2" fill="#f4faff"/><rect x="80" y="6.6" width="4.9" height="0.9" fill="#9fd2ff"/><path d="M76.2 15.6 C72.6 15.6 72.6 10.9 75.6 10.7 C76 8.9 78.6 8.9 79.4 10 C80.2 7.6 83.6 7.6 84.4 9.9 C85.6 8.9 87.6 9.6 87.6 11.2 C89.9 11.6 89.6 15.6 87 15.6 Z" fill="url(#cld)" stroke="#3f5f9f" stroke-width="0.9"/></g>
<g id="ico-signal" fill="none"><path d="M108.9 7.9 L109.4 15.9 A8 8 0 0 0 116.6 5.6 Z" fill="url(#sigw)" stroke="none"/><circle cx="108.9" cy="7.9" r="7.7" stroke="url(#sigr)" stroke-width="1.1"/><circle cx="108.9" cy="7.9" r="4.6" stroke="url(#sigr)" stroke-width="1.1"/><circle cx="108.9" cy="7.7" r="1.9" fill="#2050d6" stroke="none"/><line x1="109.5" y1="8" x2="109.5" y2="15.8" stroke="#1fa31f" stroke-width="1.5"/></g>
<g id="ico-auto"><polygon points="128.3,7.4 143.8,7 141,12.5 135.8,15.8 131.5,12" fill="url(#face)" stroke="#d29c12" stroke-width="0.8"/><ellipse cx="136" cy="4.7" rx="7.8" ry="2.8" fill="#56b0e4" stroke="#1d7eb0" stroke-width="0.7"/><ellipse cx="135.9" cy="2.6" rx="3.5" ry="3" fill="#70c2ef"/><path d="M131.3 4.2 Q136 6.4 140.6 4.2" stroke="#2f8fc4" stroke-width="0.6" fill="none"/><circle cx="140.4" cy="11.9" r="4.2" fill="url(#stop)"/><rect x="138.9" y="10.2" width="3.1" height="3.1" fill="#fff"/></g>
<text x="148.9" y="11.5" font-family="Liberation Sans, Noto Sans CJK SC, sans-serif" font-size="12px" letter-spacing="0.1" fill="#000" stroke="#000" stroke-width="0.2">自动交易</text>
<rect x="204" y="0" width="1" height="20" fill="#a0a0a0"/><rect x="205" y="0" width="1" height="20" fill="#fff"/>
<rect x="208" y="0" width="3" height="1" fill="#a8a8a8"/>
<rect x="208" y="2" width="3" height="1" fill="#a8a8a8"/>
<rect x="208" y="4" width="3" height="1" fill="#a8a8a8"/>
<rect x="208" y="6" width="3" height="1" fill="#a8a8a8"/>
<rect x="208" y="8" width="3" height="1" fill="#a8a8a8"/>
<rect x="208" y="10" width="3" height="1" fill="#a8a8a8"/>
<rect x="208" y="12" width="3" height="1" fill="#a8a8a8"/>
<rect x="208" y="14" width="3" height="1" fill="#a8a8a8"/>
<rect x="208" y="16" width="3" height="1" fill="#a8a8a8"/>
<g stroke="#505050" stroke-width="1.2" fill="#505050" shape-rendering="geometricPrecision"><line x1="222.5" y1="3" x2="222.5" y2="16"/><line x1="220.0" y1="13.6" x2="232.5" y2="13.6"/><polygon points="220.7,4.6 222.5,2 224.3,4.6" stroke="none"/><polygon points="232.1,11.8 234.5,13.6 232.1,15.4" stroke="none"/></g>
<g stroke="#169a16" stroke-width="1.3" fill="none"><line x1="228.6" y1="3" x2="228.6" y2="11.6"/><line x1="228.6" y1="4.5" x2="231.3" y2="4.5"/><line x1="226" y1="10.5" x2="228.6" y2="10.5"/></g>
<rect x="242" y="0" width="1" height="18" fill="#a0a0a0"/>
<rect x="243" y="0" width="24" height="18" fill="url(#chk)"/>
<g stroke="#505050" stroke-width="1.2" fill="#505050" shape-rendering="geometricPrecision"><line x1="250.5" y1="3" x2="250.5" y2="16"/><line x1="248.0" y1="13.6" x2="260.5" y2="13.6"/><polygon points="248.7,4.6 250.5,2 252.3,4.6" stroke="none"/><polygon points="260.1,11.8 262.5,13.6 260.1,15.4" stroke="none"/></g>
<g><line x1="256.6" y1="0" x2="256.6" y2="12" stroke="#0c960c" stroke-width="1.2"/><rect x="254.2" y="2.4" width="4.8" height="7.2" fill="#46dc46" stroke="#0c960c" stroke-width="0.9"/></g>
<g stroke="#505050" stroke-width="1.2" fill="#505050" shape-rendering="geometricPrecision"><line x1="278.5" y1="3" x2="278.5" y2="16"/><line x1="276.0" y1="13.6" x2="288.5" y2="13.6"/><polygon points="276.7,4.6 278.5,2 280.3,4.6" stroke="none"/><polygon points="288.1,11.8 290.5,13.6 288.1,15.4" stroke="none"/></g>
<path d="M277 11 C280 8 281.5 5.3 283.2 5.3 C285 5.3 286 8 289 9.2" fill="none" stroke="#2a9a2a" stroke-width="1.3"/>
<rect x="299" y="0" width="1" height="18" fill="#a0a0a0"/>
<g><line x1="318.3" y1="10.3" x2="323" y2="14.7" stroke="#a87e10" stroke-width="3.4" stroke-linecap="round"/><line x1="318.3" y1="10.3" x2="322.8" y2="14.5" stroke="#e6c42a" stroke-width="2" stroke-linecap="round"/><circle cx="314" cy="6" r="5.6" fill="#d6edfb" stroke="#2a7ad2" stroke-width="1.4"/><line x1="310.6" y1="6" x2="317.4" y2="6" stroke="#3a86b6" stroke-width="1.8"/><line x1="314" y1="2.6" x2="314" y2="9.4" stroke="#3a86b6" stroke-width="1.8"/></g>
<g><line x1="346.5" y1="10.3" x2="351.2" y2="14.7" stroke="#a87e10" stroke-width="3.4" stroke-linecap="round"/><line x1="346.5" y1="10.3" x2="351.0" y2="14.5" stroke="#e6c42a" stroke-width="2" stroke-linecap="round"/><circle cx="342.2" cy="6" r="5.6" fill="#d6edfb" stroke="#2a7ad2" stroke-width="1.4"/><line x1="338.8" y1="6" x2="345.59999999999997" y2="6" stroke="#3a86b6" stroke-width="1.8"/></g>
<g id="ico-tile"><rect x="364" y="0" width="8" height="8" rx="0.8" fill="url(#tg)"/><rect x="364.9" y="2.9" width="6.1" height="3.9" fill="#fff"/><rect x="366.3" y="6.1" width="3.3" height="0.8" fill="#3a9e10"/><rect x="366" y="4.2" width="3.9" height="0.8" fill="#9fdc8a"/><rect x="365.1" y="1" width="0.9" height="0.9" fill="#e8f4e8"/><rect x="372" y="0" width="8" height="8" rx="0.8" fill="url(#tb)"/><rect x="372.9" y="2.9" width="6.1" height="3.9" fill="#fff"/><rect x="374.3" y="6.1" width="3.3" height="0.8" fill="#1c50d2"/><rect x="374" y="4.2" width="3.9" height="0.8" fill="#8aa6f2"/><rect x="373.1" y="1" width="0.9" height="0.9" fill="#e8f4e8"/><rect x="364" y="8" width="8" height="8" rx="0.8" fill="url(#tb)"/><rect x="364.9" y="10.9" width="6.1" height="3.9" fill="#fff"/><rect x="366.3" y="14.1" width="3.3" height="0.8" fill="#1c50d2"/><rect x="366" y="12.2" width="3.9" height="0.8" fill="#8aa6f2"/><rect x="365.1" y="9" width="0.9" height="0.9" fill="#e8f4e8"/><rect x="372" y="8" width="8" height="8" rx="0.8" fill="url(#tg)"/><rect x="372.9" y="10.9" width="6.1" height="3.9" fill="#fff"/><rect x="374.3" y="14.1" width="3.3" height="0.8" fill="#3a9e10"/><rect x="374" y="12.2" width="3.9" height="0.8" fill="#9fdc8a"/><rect x="373.1" y="9" width="0.9" height="0.9" fill="#e8f4e8"/></g>
<rect x="389" y="0" width="1" height="18" fill="#a0a0a0"/>
<rect x="394" y="0" width="1" height="18" fill="#a0a0a0"/>
<rect x="395" y="0" width="24" height="18" fill="url(#chk)"/>
<g stroke="#505050" stroke-width="1.2" fill="#505050" shape-rendering="geometricPrecision"><line x1="402.5" y1="3" x2="402.5" y2="16"/><line x1="400.0" y1="13.6" x2="412.5" y2="13.6"/><polygon points="400.7,4.6 402.5,2 404.3,4.6" stroke="none"/><polygon points="412.1,11.8 414.5,13.6 412.1,15.4" stroke="none"/></g>
<polygon points="407.3,4.3 411,7.6 407.3,11" fill="#66dd66" stroke="#169a16" stroke-width="1"/>
<rect x="422" y="0" width="1" height="18" fill="#a0a0a0"/>
<rect x="423" y="0" width="24" height="18" fill="url(#chk)"/>
<g stroke="#505050" stroke-width="1.2" fill="#505050" shape-rendering="geometricPrecision"><line x1="430.5" y1="3" x2="430.5" y2="16"/><line x1="428.0" y1="13.6" x2="440.5" y2="13.6"/><polygon points="428.7,4.6 430.5,2 432.3,4.6" stroke="none"/><polygon points="440.1,11.8 442.5,13.6 440.1,15.4" stroke="none"/></g>
<line x1="436.6" y1="2" x2="436.6" y2="12" stroke="#1a6ab4" stroke-width="1.3"/><polygon points="437.6,7.5 440.8,5 440.8,10" fill="#e24a10"/><line x1="440" y1="7.5" x2="442.6" y2="7.5" stroke="#e24a10" stroke-width="1.2"/>
<rect x="451" y="0" width="1" height="18" fill="#a0a0a0"/>
<g id="ico-ind"><polygon points="461.3,0.3 469.5,0.3 472.7,3.5 472.7,13.7 461.3,13.7" fill="#fdfdfd" stroke="#8a8a8a" stroke-width="0.9"/><path d="M466 4 q-1.8 0 -1.8 2 v5.5 M462.8 7.2 h3" stroke="#777" stroke-width="0.9" fill="none"/><path d="M469.3 6.3 h3.4 v4 h4.1 v3.4 h-4.1 v4 h-3.4 v-4 h-4.1 v-3.4 h4.1 z" fill="#2fd02f" stroke="#0a800a" stroke-width="1"/><path d="M470.4 7.4 h1.2 v4 h4.1 v1.2 h-4.1 v4 h-1.2 v-4 h-4.1 v-1.2 h4.1 z" fill="#7df07d"/></g>
<polygon points="482.4,6.8 488.6,6.8 485.5,10.1" fill="#000"/>
<g id="ico-clock"><circle cx="507" cy="8" r="6.9" fill="#f4f6f8" stroke="url(#clk)" stroke-width="2.2"/><circle cx="507" cy="8" r="4.6" fill="none" stroke="#b8bec6" stroke-width="0.8" stroke-dasharray="0.7 1.7"/><path d="M506.5 3.5 V8.3 H510" stroke="#222" stroke-width="1.2" fill="none"/></g>
<polygon points="521.4,6.8 527.6,6.8 524.5,10.1" fill="#000"/>
<g id="ico-tpl"><rect x="538.3" y="1.3" width="15.6" height="13.6" fill="#fff" stroke="#2f6ccc" stroke-width="1"/><rect x="538.3" y="1.3" width="15.6" height="2.4" fill="#4f8fe2"/><line x1="538.3" y1="9.3" x2="553.9" y2="9.3" stroke="#2f6ccc" stroke-width="0.9"/><polyline points="540,7.2 542.5,7 544.5,5.6 546,5.4 547.5,6.4 549.5,6.3 551.5,5.2" fill="none" stroke="#a82a10" stroke-width="1.1"/><polyline points="540.8,12.6 542.5,11.6 544,12.2 546,12.2 548.5,10.2 550,10.6 552,12.6" fill="none" stroke="#1a9a1a" stroke-width="1.1"/></g>
<polygon points="560.4,6.8 566.6,6.8 563.5,10.1" fill="#000"/>
<rect x="572" y="0" width="1" height="20" fill="#a0a0a0"/><rect x="573" y="0" width="1" height="20" fill="#fff"/>
<rect x="576" y="0" width="3" height="1" fill="#a8a8a8"/>
<rect x="576" y="2" width="3" height="1" fill="#a8a8a8"/>
<rect x="576" y="4" width="3" height="1" fill="#a8a8a8"/>
<rect x="576" y="6" width="3" height="1" fill="#a8a8a8"/>
<rect x="576" y="8" width="3" height="1" fill="#a8a8a8"/>
<rect x="576" y="10" width="3" height="1" fill="#a8a8a8"/>
<rect x="576" y="12" width="3" height="1" fill="#a8a8a8"/>
<rect x="576" y="14" width="3" height="1" fill="#a8a8a8"/>
<rect x="576" y="16" width="3" height="1" fill="#a8a8a8"/>
<rect x="582" y="0" width="1" height="18" fill="#a0a0a0"/>
<rect x="583" y="0" width="24" height="18" fill="url(#chk)"/>
<polygon points="590,1 590,12.4 592.8,10 595.3,15 597.2,14 594.8,9.2 598.2,8.8" fill="#444"/>
<g stroke="#444" stroke-width="1.1"><line x1="622.5" y1="1" x2="622.5" y2="16"/><line x1="615" y1="8.5" x2="630" y2="8.5"/></g>
<rect x="639" y="0" width="1" height="18" fill="#a0a0a0"/>
<g stroke="#444" stroke-width="1.2" fill="none" shape-rendering="geometricPrecision"><line x1="656.5" y1="2" x2="656.5" y2="15"/><line x1="679" y1="8.5" x2="691" y2="8.5"/><line x1="707" y1="15" x2="719.3" y2="2.7"/><line x1="732.8" y1="10" x2="740.8" y2="2.3"/><line x1="737.8" y1="14.6" x2="747.2" y2="6"/><line x1="735.3" y1="12.4" x2="744.2" y2="3.6"/><line x1="745" y1="0" x2="745.3" y2="6" stroke-width="1"/><path d="M735.5 8 l-1 6 M738.5 6 l-1.2 6.4 M741.5 4 l-1.3 6" stroke-width="0.9"/></g>
<text x="743.6" y="17" font-family="Liberation Sans, sans-serif" font-size="7.5px" font-weight="bold" fill="#444">E</text>
<rect x="762" y="1" width="1" height="1" fill="#555"/>
<rect x="764" y="1" width="1" height="1" fill="#555"/>
<rect x="766" y="1" width="1" height="1" fill="#555"/>
<rect x="768" y="1" width="1" height="1" fill="#555"/>
<rect x="770" y="1" width="1" height="1" fill="#555"/>
<rect x="772" y="1" width="1" height="1" fill="#555"/>
<rect x="774" y="1" width="1" height="1" fill="#555"/>
<rect x="762" y="4" width="1" height="1" fill="#555"/>
<rect x="764" y="4" width="1" height="1" fill="#555"/>
<rect x="766" y="4" width="1" height="1" fill="#555"/>
<rect x="768" y="4" width="1" height="1" fill="#555"/>
<rect x="770" y="4" width="1" height="1" fill="#555"/>
<rect x="772" y="4" width="1" height="1" fill="#555"/>
<rect x="774" y="4" width="1" height="1" fill="#555"/>
<rect x="762" y="8" width="1" height="1" fill="#555"/>
<rect x="764" y="8" width="1" height="1" fill="#555"/>
<rect x="766" y="8" width="1" height="1" fill="#555"/>
<rect x="768" y="8" width="1" height="1" fill="#555"/>
<rect x="770" y="8" width="1" height="1" fill="#555"/>
<rect x="772" y="8" width="1" height="1" fill="#555"/>
<rect x="774" y="8" width="1" height="1" fill="#555"/>
<rect x="762" y="12" width="1" height="1" fill="#555"/>
<rect x="764" y="12" width="1" height="1" fill="#555"/>
<rect x="766" y="12" width="1" height="1" fill="#555"/>
<rect x="768" y="12" width="1" height="1" fill="#555"/>
<text x="771.6" y="17" font-family="Liberation Sans, sans-serif" font-size="7.5px" font-weight="bold" fill="#444">F</text>
<text x="792.7" y="13" font-family="Liberation Sans, sans-serif" font-size="11.6px" fill="#555" stroke="#555" stroke-width="0.45">A</text>
<rect x="819" y="2" width="1" height="1" fill="#555"/><rect x="821" y="2" width="1" height="1" fill="#555"/><rect x="823" y="2" width="1" height="1" fill="#555"/><rect x="825" y="2" width="1" height="1" fill="#555"/><rect x="827" y="2" width="1" height="1" fill="#555"/><rect x="829" y="2" width="1" height="1" fill="#555"/><rect x="831" y="2" width="1" height="1" fill="#555"/><rect x="819" y="14" width="1" height="1" fill="#555"/><rect x="821" y="14" width="1" height="1" fill="#555"/><rect x="823" y="14" width="1" height="1" fill="#555"/><rect x="825" y="14" width="1" height="1" fill="#555"/><rect x="827" y="14" width="1" height="1" fill="#555"/><rect x="829" y="14" width="1" height="1" fill="#555"/><rect x="831" y="14" width="1" height="1" fill="#555"/><rect x="819" y="4" width="1" height="1" fill="#555"/><rect x="819" y="6" width="1" height="1" fill="#555"/><rect x="819" y="8" width="1" height="1" fill="#555"/><rect x="819" y="10" width="1" height="1" fill="#555"/><rect x="819" y="12" width="1" height="1" fill="#555"/><rect x="831" y="4" width="1" height="1" fill="#555"/><rect x="831" y="6" width="1" height="1" fill="#555"/><rect x="831" y="8" width="1" height="1" fill="#555"/><rect x="831" y="10" width="1" height="1" fill="#555"/><rect x="831" y="12" width="1" height="1" fill="#555"/><text x="821" y="13" font-family="Liberation Sans, sans-serif" font-size="11px" fill="#555" stroke="#555" stroke-width="0.3">T</text>
<g fill="#444"><polygon points="850,1.8 853.8,5.2 850,6.8 846.2,5.2"/><polygon points="852.5,11.6 856.2,10.4 860,11.6 856.2,15.2"/><polyline points="848,10 850.6,12.2 855.3,6.3" fill="none" stroke="#444" stroke-width="1.2"/></g>
<polygon points="866.6999999999999,6.8 872.9,6.8 869.8,10.1" fill="#000"/>
<rect x="878" y="0" width="1" height="20" fill="#a0a0a0"/><rect x="879" y="0" width="1" height="20" fill="#fff"/>
<rect x="882" y="0" width="3" height="1" fill="#a8a8a8"/>
<rect x="882" y="2" width="3" height="1" fill="#a8a8a8"/>
<rect x="882" y="4" width="3" height="1" fill="#a8a8a8"/>
<rect x="882" y="6" width="3" height="1" fill="#a8a8a8"/>
<rect x="882" y="8" width="3" height="1" fill="#a8a8a8"/>
<rect x="882" y="10" width="3" height="1" fill="#a8a8a8"/>
<rect x="882" y="12" width="3" height="1" fill="#a8a8a8"/>
<rect x="882" y="14" width="3" height="1" fill="#a8a8a8"/>
<rect x="882" y="16" width="3" height="1" fill="#a8a8a8"/>
<rect x="1028" y="0" width="1" height="18" fill="#a0a0a0"/>
<rect x="1029" y="0" width="24" height="18" fill="url(#chk)"/>
<text x="899.8" y="12" font-family="Liberation Sans, sans-serif" font-size="9.5px" text-rendering="geometricPrecision" fill="#444" stroke="#444" stroke-width="0.15" text-anchor="middle">M1</text>
<text x="928" y="12" font-family="Liberation Sans, sans-serif" font-size="9.5px" text-rendering="geometricPrecision" fill="#444" stroke="#444" stroke-width="0.15" text-anchor="middle">M5</text>
<text x="956.4" y="12" font-family="Liberation Sans, sans-serif" font-size="9.5px" text-rendering="geometricPrecision" fill="#444" stroke="#444" stroke-width="0.15" text-anchor="middle">M15</text>
<text x="984.4" y="12" font-family="Liberation Sans, sans-serif" font-size="9.5px" text-rendering="geometricPrecision" fill="#444" stroke="#444" stroke-width="0.15" text-anchor="middle">M30</text>
<text x="1012.4" y="12" font-family="Liberation Sans, sans-serif" font-size="9.5px" text-rendering="geometricPrecision" fill="#444" stroke="#444" stroke-width="0.15" text-anchor="middle">H1</text>
<text x="1039.8" y="12" font-family="Liberation Sans, sans-serif" font-size="9.5px" text-rendering="geometricPrecision" fill="#444" stroke="#444" stroke-width="0.15" text-anchor="middle">H4</text>
<text x="1068.3" y="12" font-family="Liberation Sans, sans-serif" font-size="9.5px" text-rendering="geometricPrecision" fill="#444" stroke="#444" stroke-width="0.15" text-anchor="middle">D1</text>
<text x="1097.5" y="12" font-family="Liberation Sans, sans-serif" font-size="9.5px" text-rendering="geometricPrecision" fill="#444" stroke="#444" stroke-width="0.15" text-anchor="middle">W1</text>
<text x="1124" y="12" font-family="Liberation Sans, sans-serif" font-size="9.5px" text-rendering="geometricPrecision" fill="#444" stroke="#444" stroke-width="0.15" text-anchor="middle">MN</text>
<rect x="1139" y="0" width="1" height="18" fill="#a0a0a0"/>
<g id="ico-search"><line x1="1606.4" y1="8.6" x2="1602.4" y2="12.6" stroke="#2259d2" stroke-width="2.7" stroke-linecap="round"/><circle cx="1609.5" cy="5.4" r="4.05" fill="#f6f6ff" stroke="#2259d2" stroke-width="1.4"/></g>
<g id="ico-chat"><polygon points="1629.3,14.2 1629.1,16.8 1631.6,14.6" fill="#9a9a9a"/><ellipse cx="1631.6" cy="9.8" rx="5.3" ry="4.6" fill="url(#bub)" stroke="#ababab" stroke-width="0.9"/><circle cx="1640.5" cy="5.8" r="8.2" fill="url(#badge)"/><text x="1639.5" y="10.3" font-family="DejaVu Sans, Liberation Sans, sans-serif" font-size="12.5px" fill="#fff" stroke="#fff" stroke-width="0.3" text-anchor="middle">1</text></g>
</svg>
</div>
</body>
</html>
